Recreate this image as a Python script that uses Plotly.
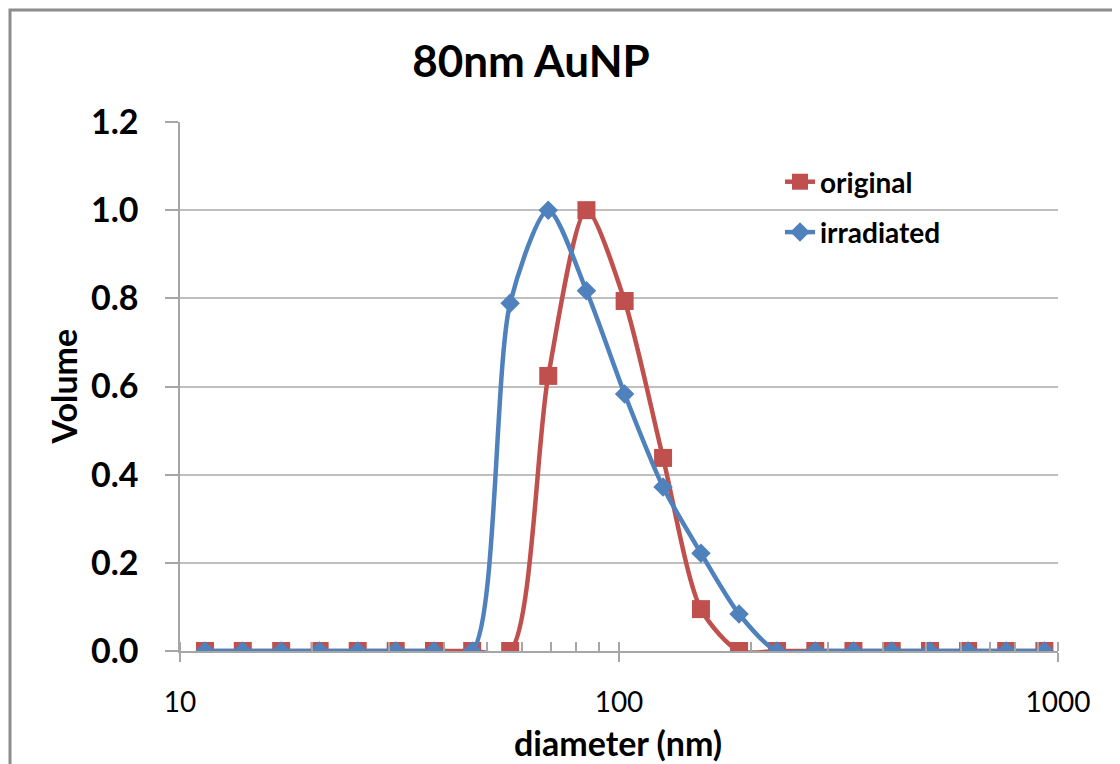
import plotly.graph_objects as go

diameter = [11.4, 13.9, 17.0, 20.8, 25.4, 31.0, 37.9, 46.3, 56.5, 69.0, 84.3,
            103, 126, 153.7, 187.7, 229, 280, 342, 418, 511, 624, 762, 931]
original = [0, 0, 0, 0, 0, 0, 0, 0, 0, 0.624, 1.0, 0.794, 0.438, 0.095, 0,
            0, 0, 0, 0, 0, 0, 0, 0]
irradiated = [0, 0, 0, 0, 0, 0, 0, 0, 0.789, 1.0, 0.817, 0.583, 0.372, 0.222, 0.084,
              0, 0, 0, 0, 0, 0, 0, 0]
y_ticks = [0.0, 0.2, 0.4, 0.6, 0.8, 1.0, 1.2]
x_ticks = [10, 100, 1000]
x_minor = [10, 20, 30, 40, 50, 60, 70, 80, 90, 100, 200, 300, 400, 500, 600, 700, 800, 900, 1000]

RED = "#C0504D"
BLUE = "#4F81BD"
FONT = "Lato"

# page offset of the figure (body margin)
OFF = 8
W, H = 1120 - OFF, 764 - OFF
PL, PR, PT, PB = 180 - OFF, 1058 - OFF, 122 - OFF, 651 - OFF  # plot area in figure px
PW, PH = PR - PL, PB - PT


def px_x(page_x):
    return (page_x - OFF - PL) / PW


def px_y(page_y):
    return (PB - (page_y - OFF)) / PH


fig = go.Figure()
fig.add_trace(go.Scatter(
    x=diameter, y=original, name="original", mode="lines+markers",
    line=dict(color=RED, width=4.5, shape="spline", smoothing=0.75),
    marker=dict(symbol="square", size=18, color=RED),
    legendgroup="a",
))
fig.add_trace(go.Scatter(
    x=diameter, y=irradiated, name="irradiated", mode="lines+markers",
    line=dict(color=BLUE, width=4.5, shape="spline", smoothing=0.75),
    marker=dict(symbol="diamond", size=15, color=BLUE),
    legendgroup="b",
))

fig.update_layout(
    width=W, height=H,
    margin=dict(l=PL, r=W - PR, t=PT, b=H - PB),
    paper_bgcolor="white", plot_bgcolor="white",
    font=dict(family=FONT, color="black"),
    title=dict(text="<b>80nm AuNP</b>", x=(531 - OFF) / W, xref="container", xanchor="center",
               y=1 - (62 - OFF) / H, yref="container", yanchor="middle",
               font=dict(size=44, family=FONT, color="black")),
    showlegend=True,
    legend=dict(x=px_x(780), y=px_y(157), xanchor="left", yanchor="top",
                font=dict(size=28, family=FONT, color="black", weight="bold"),
                traceorder="grouped", tracegroupgap=11, bgcolor="rgba(0,0,0,0)"),
    xaxis=dict(
        type="log", range=[1, 3], tickvals=x_ticks, ticktext=[str(v) for v in x_ticks],
        ticks="outside", ticklen=9, tickcolor="#A6A6A6", tickwidth=1.5,
        showline=True, linecolor="#A6A6A6", linewidth=1.5, showgrid=False, zeroline=False,
        tickfont=dict(size=28, family=FONT, color="black"),
        ticklabelstandoff=17,
        minor=dict(tickvals=x_minor, ticks="inside", ticklen=9, tickcolor="#A6A6A6",
                   tickwidth=1.5, showgrid=False),
    ),
    yaxis=dict(
        range=[0, 1.2], tickvals=y_ticks, ticktext=["%.1f" % v for v in y_ticks],
        ticks="outside", ticklen=13, tickcolor="#A6A6A6", tickwidth=1.5,
        showline=True, linecolor="#A6A6A6", linewidth=1.5,
        showgrid=True, gridcolor="#BFBFBF", gridwidth=1.5, zeroline=False,
        tickfont=dict(size=34, family=FONT, color="black", weight="bold"),
        ticklabelstandoff=20,
    ),
    annotations=[
        dict(text="<b>diameter (nm)</b>", xref="paper", yref="paper", x=px_x(618),
             y=px_y(742), xanchor="center", yanchor="middle", showarrow=False,
             font=dict(size=34, family=FONT, color="black")),
        dict(text="<b>Volume</b>", xref="paper", yref="paper", x=px_x(63), y=0.5,
             xanchor="center", yanchor="middle", textangle=-90, showarrow=False,
             font=dict(size=34, family=FONT, color="black")),
    ],
    shapes=[
        dict(type="rect", xref="paper", yref="paper", x0=px_x(10), x1=1.2,
             y0=-0.4, y1=px_y(10), line=dict(color="#8C8C8C", width=3),
             fillcolor="rgba(0,0,0,0)", layer="below"),
    ],
)

fig.write_html("out.html")
